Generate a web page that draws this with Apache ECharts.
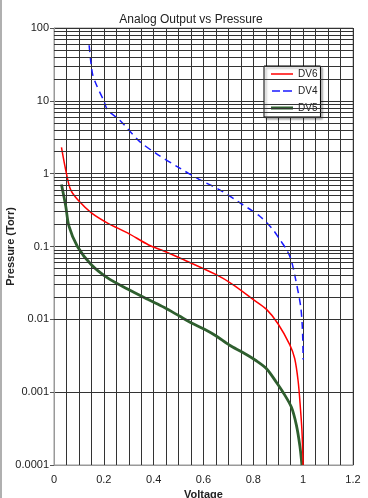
<!DOCTYPE html>
<html>
<head>
<meta charset="utf-8">
<script src="https://cdn.jsdelivr.net/npm/echarts@6/dist/echarts.min.js"></script>
<style>
html,body{margin:0;padding:0;background:#fff;}
#wrap{position:relative;width:368px;height:498px;}
#c{width:368px;height:498px;}
#edge{position:absolute;left:0;top:0;width:2px;height:498px;background:#b0b0b0;}
</style>
</head>
<body>
<div id="wrap"><div id="c"></div><div id="edge"></div></div>
<script>
// Voltage (x) and pressure in Torr (y)
const dv6X = [0.03, 0.05, 0.067, 0.10, 0.15, 0.215, 0.295, 0.38, 0.443, 0.503, 0.651, 0.718, 0.799, 0.853, 0.899, 0.946, 0.966, 0.98, 0.989, 0.995, 1.0];
const dv6Y = [2.3, 1.0, 0.6, 0.42, 0.29, 0.21, 0.154, 0.105, 0.086, 0.070, 0.041, 0.030, 0.0188, 0.0137, 0.0087, 0.0045, 0.0029, 0.0014, 0.0006, 0.0003, 0.0001];

const dv4X = [0.141, 0.154, 0.17, 0.20, 0.215, 0.262, 0.342, 0.409, 0.503, 0.584, 0.665, 0.745, 0.826, 0.879, 0.906, 0.933, 0.952, 0.97, 0.99, 0.997, 1.0];
const dv4Y = [58, 24, 16.6, 10, 7.5, 5.5, 2.8, 1.9, 1.2, 0.83, 0.60, 0.40, 0.26, 0.17, 0.125, 0.091, 0.065, 0.035, 0.015, 0.0073, 0.0028];

const dv5X = [0.03, 0.047, 0.06, 0.094, 0.148, 0.215, 0.295, 0.376, 0.443, 0.503, 0.55, 0.604, 0.651, 0.705, 0.758, 0.812, 0.853, 0.893, 0.919, 0.953, 0.973, 0.987, 0.995];
const dv5Y = [0.71, 0.36, 0.19, 0.10, 0.057, 0.037, 0.026, 0.0188, 0.0145, 0.0111, 0.009, 0.0073, 0.0059, 0.0044, 0.0035, 0.0027, 0.0021, 0.00136, 0.001, 0.00062, 0.00035, 0.00018, 0.0001];

const seriesNames = ['DV6', 'DV4', 'DV5'];
const yDecadesExp = [-4, -3, -2, -1, 0, 1];   // minor grid decades
const minorMult = [2, 3, 4, 5, 6, 7, 8, 9];

function pairs(xs, ys) { return xs.map((x, i) => [x, ys[i]]); }

const minorLines = [];
yDecadesExp.forEach(e => minorMult.forEach(m => minorLines.push({ yAxis: m * Math.pow(10, e) })));

// legend icons (22x10 box): solid thin, dashed, solid thick
const legendIcons = [
  'path://M0,0M22,10M0,4.25h22v1.5h-22z',
  'path://M0,0M22,10M1,4.25h8v1.5h-8zM12,4.25h9v1.5h-9z',
  'path://M0,0M22,10M0,3.5h22v3h-22z'
];

const font = 'Arial, "Liberation Sans", sans-serif';
const chart = echarts.init(document.getElementById('c'), null, { renderer: 'canvas' });
chart.setOption({
  animation: false,
  title: {
    text: 'Analog Output vs Pressure',
    left: 186, top: 9, textAlign: 'center',
    textStyle: { fontFamily: font, fontSize: 12, fontWeight: 'normal', color: '#222' }
  },
  grid: { left: 54, right: 15, top: 28, bottom: 33, show: true, borderColor: '#999', borderWidth: 1, outerBoundsMode: 'none', containLabel: false },
  legend: {
    data: seriesNames.map((n, i) => ({ name: n, icon: legendIcons[i] })),
    orient: 'vertical',
    left: 264, top: 66,
    itemWidth: 22, itemHeight: 10, itemGap: 7,
    padding: [3, 3, 4, 7],
    backgroundColor: '#fff',
    borderColor: '#000', borderWidth: 1,
    shadowColor: 'rgba(0,0,0,0.35)', shadowBlur: 2, shadowOffsetX: 2, shadowOffsetY: 2,
    textStyle: { fontFamily: font, fontSize: 10, color: '#222' }
  },
  xAxis: {
    type: 'value', min: 0, max: 1.2, interval: 0.2,
    name: 'Voltage', nameLocation: 'middle', nameGap: 21,
    nameTextStyle: { fontFamily: font, fontSize: 11, fontWeight: 'bold', color: '#222' },
    axisLine: { show: true, lineStyle: { color: '#999' } },
    axisTick: { show: false },
    axisLabel: { margin: 9, fontFamily: font, fontSize: 11, color: '#222' },
    splitLine: { show: true, lineStyle: { color: '#333', width: 1 } },
    minorTick: { show: false, splitNumber: 4 },
    minorSplitLine: { show: true, lineStyle: { color: '#333', width: 1 } }
  },
  yAxis: {
    type: 'log', logBase: 10, min: 0.0001, max: 100,
    name: 'Pressure (Torr)', nameLocation: 'middle', nameGap: 38, nameMoveOverlap: false,
    nameTextStyle: { fontFamily: font, fontSize: 11, fontWeight: 'bold', color: '#222' },
    axisLine: { show: true, lineStyle: { color: '#999' } },
    axisTick: { show: true, length: 4, lineStyle: { color: '#555' } },
    axisLabel: {
      margin: 5, fontFamily: font, fontSize: 11, color: '#222',
      formatter: v => { const e = Math.round(Math.log10(v)); return e >= 0 ? String(Math.pow(10, e)) : Math.pow(10, e).toFixed(-e); }
    },
    splitLine: { show: true, lineStyle: { color: '#333', width: 1 } }
  },
  series: [
    {
      name: 'grid-minor', type: 'line', data: [], z: 1, silent: true,
      markLine: {
        silent: true, symbol: 'none', animation: false,
        label: { show: false },
        lineStyle: { color: '#333', width: 1, type: 'solid' },
        emphasis: { disabled: true },
        data: minorLines
      }
    },
    {
      name: 'DV6', type: 'line', data: pairs(dv6X, dv6Y), z: 4,
      symbol: 'none', smooth: 0.3,
      lineStyle: { color: '#ff0000', width: 1.5 }, itemStyle: { color: '#ff0000' }
    },
    {
      name: 'DV4', type: 'line', data: pairs(dv4X, dv4Y), z: 3,
      symbol: 'none', smooth: 0.3,
      lineStyle: { color: '#1a1aff', width: 1.5, type: [7, 5] }, itemStyle: { color: '#1a1aff' }
    },
    {
      name: 'DV5', type: 'line', data: pairs(dv5X, dv5Y), z: 3,
      symbol: 'none', smooth: 0.3,
      lineStyle: { color: '#2f5f2f', width: 2.8 }, itemStyle: { color: '#2f5f2f' }
    }
  ]
});
</script>
</body>
</html>
